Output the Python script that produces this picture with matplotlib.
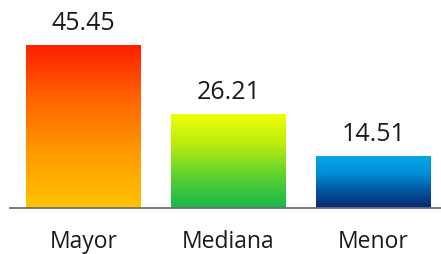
import matplotlib
matplotlib.use("Agg")
import matplotlib.pyplot as plt
import numpy as np
from matplotlib.colors import LinearSegmentedColormap

categories = ["Mayor", "Mediana", "Menor"]
values = [45.45, 26.21, 14.51]
labels = ["45.45", "26.21", "14.51"]
# gradient colours, bottom -> top
grads = [
    ["#FFC400", "#FF9A00", "#FF6400", "#FF1E00"],
    ["#16B84A", "#5CD030", "#B8EC10", "#F2FF00"],
    ["#0A2670", "#0456A0", "#0090D8", "#08A8E8"],
]

plt.rcParams["font.family"] = ["Open Sans", "DejaVu Sans"]

fig = plt.figure(figsize=(4.41, 2.55), dpi=100)
ax = fig.add_axes([10 / 441, 0.18, 431 / 441, 0.82])

x = np.arange(len(categories))
bars = ax.bar(x, values, width=0.79, color="none", edgecolor="none")

grad = np.linspace(0, 1, 256).reshape(-1, 1)
for b, cols in zip(bars, grads):
    cmap = LinearSegmentedColormap.from_list("g", cols)
    x0, y0 = b.get_x(), b.get_y()
    w, h = b.get_width(), b.get_height()
    im = ax.imshow(grad, cmap=cmap, origin="lower", aspect="auto",
                   extent=[x0, x0 + w, y0, y0 + h], zorder=2)
    im.set_clip_path(b)

for xi, v, lab in zip(x, values, labels):
    ax.text(xi, v + 2.8, lab, ha="center", va="bottom", fontsize=18, color="#1a1a1a")

ax.set_xlim(-0.507, 2.466)
ax.set_ylim(0, 58.2)
ax.axhline(0, xmin=0.0, xmax=1.0, color="#6e6e6e", lw=1.3, zorder=3,
           clip_on=False)

for s in ax.spines.values():
    s.set_visible(False)
ax.set_yticks([])
ax.set_xticks(x)
ax.set_xticklabels(categories, fontsize=16.5, color="#1a1a1a")
ax.tick_params(axis="x", length=0, pad=15)

fig.savefig("out.png", dpi=100)
